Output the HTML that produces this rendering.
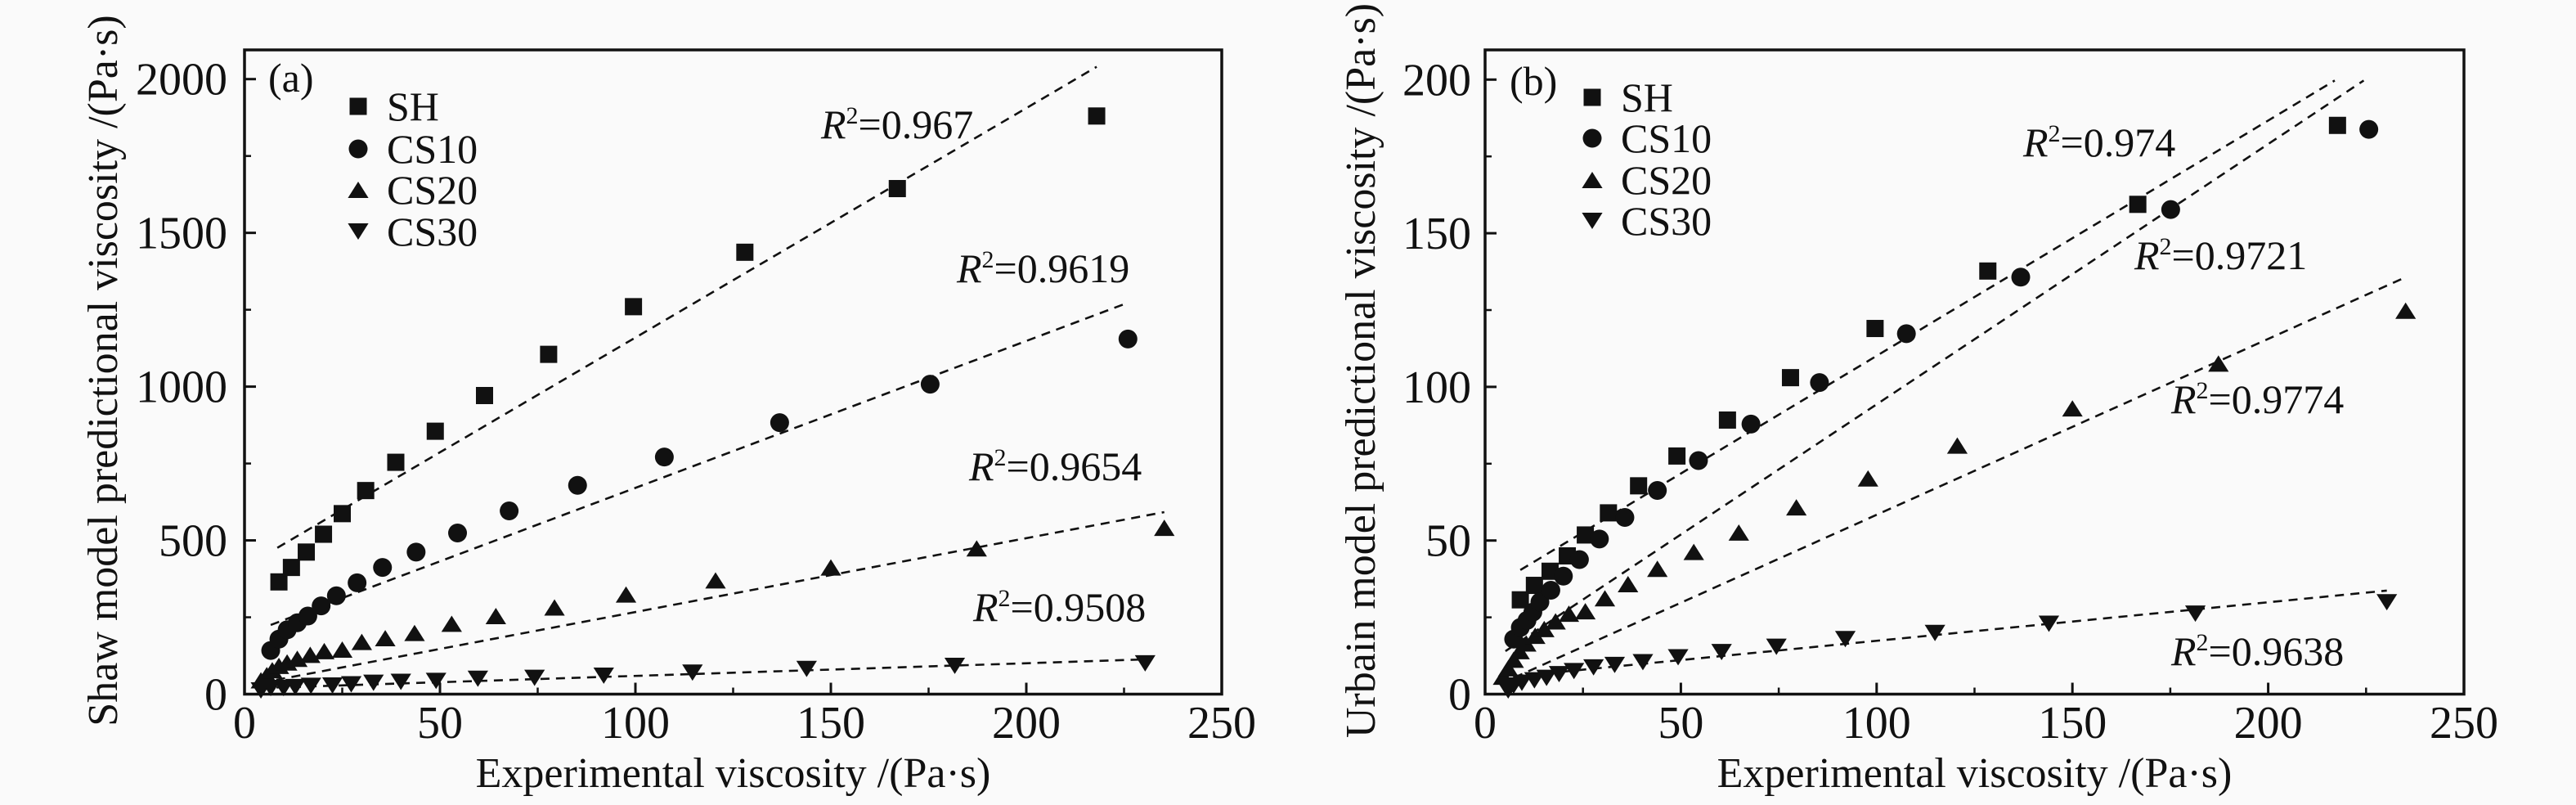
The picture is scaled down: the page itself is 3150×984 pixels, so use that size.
<!DOCTYPE html>
<html><head><meta charset="utf-8">
<style>
html,body{margin:0;padding:0;background:#fafafa;}
svg{display:block;font-family:"Liberation Serif",serif;}
</style></head>
<body>
<svg id="chart" width="3150" height="984" viewBox="0 0 3150 984" xmlns="http://www.w3.org/2000/svg">
<rect x="0" y="0" width="3150" height="984" fill="#fafafa"/>
</svg>
<script>
// ---- Panel (a) data: Shaw model ----
const aSHx=[8.8,12,15.8,20.2,25,31,38.7,48.8,61.4,77.8,99.5,128,167,218];
const aSHy=[365,412,462,520,587,662,754,855,971,1105,1260,1437,1644,1880];
const aCS10x=[6.7,8.8,10.9,13.5,16.2,19.6,23.5,28.8,35.3,43.9,54.5,67.7,85.2,107.4,136.9,175.4,226];
const aCS10y=[142,179,209,232,254,287,320,362,412,462,524,596,679,771,883,1008,1155];
const aCS20x=[4.2,5.7,7.1,8.8,10.9,13.5,16.8,20.4,25,30,36,43.5,53,64.3,79.3,97.6,120.5,150,187.3,235.3];
const aCS20y=[45,62,78,92,103,115,128,140,145,170,182,199,229,254,282,324,370,412,474,541];
const aCS30x=[4.2,6.7,10,13,17,22.5,27.3,33,40,49,59.7,74.2,91.9,114.6,143.8,181.7,230.4];
const aCS30y=[12,20,20,23,27,28,32,37,40,43,50,53,60,70,82,92,100];
const aFitX0=[8.4,6.7,4.2,4.2], aFitY0=[476,225,37,20];
const aFitX1=[218,225,235.3,230.4], aFitY1=[2040,1268,592,113];
const aR2=["0.967","0.9619","0.9654","0.9508"];
const aYTicks=[0,500,1000,1500,2000];
// ---- Panel (b) data: Urbain model ----
const bSHx=[9,12.6,16.6,21,25.6,31.5,39.2,49,61.9,78,99.6,128.4,166.7,217.7];
const bSHy=[30.7,35.4,40,45,51.8,59,67.8,77.5,89.2,103,119,137.7,159.4,185.1];
const bCS10x=[7.3,9,10.7,12.2,14,16.8,20,24.1,29.2,35.7,44,54.5,67.9,85.4,107.6,136.8,175.1,225.7];
const bCS10y=[17.9,21.7,24,26.7,30,33.8,38.4,43.8,50.5,57.5,66.3,76,87.9,101.4,117.3,135.7,157.7,183.8];
const bCS20x=[4.6,5.9,7.3,8.8,10.5,12.8,15.1,18,21.4,25.6,30.6,36.5,44,53.3,64.8,79.5,97.8,120.6,150,187.3,235.1];
const bCS20y=[5.7,8.4,11.2,14,16.5,19,21.2,23.7,26.2,27,31.2,35.8,40.8,46.3,52.6,60.8,70.2,80.9,93,107.6,124.8];
const bCS30x=[5.9,7.3,9.4,12.6,15.7,18.9,22.7,27.7,33.1,40.3,49.3,60.4,74.4,92,114.9,144,181.4,230.3];
const bCS30y=[1.2,2.8,3.7,4.5,5.3,6.5,7.5,8.7,9.5,10.4,12,13.7,15.4,17.9,19.9,22.9,26.2,29.9];
const bFitX0=[9,5.2,3.8,3.8], bFitY0=[40.4,14,3.3,5.3];
const bFitX1=[217,224.4,235.1,230.3], bFitY1=[199.7,199.7,135.7,33.7];
const bR2=["0.974","0.9721","0.9774","0.9638"];
const bYTicks=[0,50,100,150,200];
const xTicks=[0,50,100,150,200,250];
const seriesNames=["SH","CS10","CS20","CS30"];

const NS="http://www.w3.org/2000/svg";
const svg=document.getElementById('chart');
function mk(tag,attrs,parent){const e=document.createElementNS(NS,tag);for(const k in attrs)e.setAttribute(k,attrs[k]);(parent||svg).appendChild(e);return e;}
function marker(g,shape,cx,cy,s){
  let e;
  if(shape===0){e=mk('rect',{x:cx-s/2,y:cy-s/2,width:s,height:s,fill:'#111'},g);}
  else if(shape===1){e=mk('circle',{cx:cx,cy:cy,r:s/2+1,fill:'#111'},g);}
  else if(shape===2){const h=s*0.95;e=mk('polygon',{points:`${cx-s*0.6},${cy+h/2} ${cx+s*0.6},${cy+h/2} ${cx},${cy-h/2}`,fill:'#111'},g);}
  else {const h=s*0.95;e=mk('polygon',{points:`${cx-s*0.6},${cy-h/2} ${cx+s*0.6},${cy-h/2} ${cx},${cy+h/2}`,fill:'#111'},g);}
  return e;
}
function panel(cfg){
  const {L,R,T,B,yMax,yTicks,xs,ys,fx0,fy0,fx1,fy1,r2,r2pos,ytitle,ytx,label,labPos,legX,legY,tag,ylabR}=cfg;
  const X=v=>L+v/250*(R-L);
  const yScale=v=>B-v*(B-cfg.yTopPix)/yMax;
  const g=mk('g',{});
  
  
  for(let i=0;i<xTicks.length;i++){
    const v=xTicks[i];
    const t=mk('line',{x1:X(v),y1:B,x2:X(v),y2:B-14,stroke:'#111','stroke-width':3},g);
    
    if(i<xTicks.length-1){const m=mk('line',{x1:X(v+25),y1:B,x2:X(v+25),y2:B-8,stroke:'#111','stroke-width':2.5},g);
      }
    const tl=mk('text',{x:X(v),y:902,'font-size':56,'text-anchor':'middle',fill:'#111'},g);
    tl.textContent=v;
    
  }
  for(let i=0;i<yTicks.length;i++){
    const v=yTicks[i];
    const t=mk('line',{x1:L,y1:yScale(v),x2:L+14,y2:yScale(v),stroke:'#111','stroke-width':3},g);
    
    if(i<yTicks.length-1){const hv=(yTicks[i]+yTicks[i+1])/2;const m=mk('line',{x1:L,y1:yScale(hv),x2:L+8,y2:yScale(hv),stroke:'#111','stroke-width':2.5},g);
      }
    const tl=mk('text',{x:ylabR,y:yScale(v)+19,'font-size':56,'text-anchor':'end',fill:'#111'},g);
    tl.textContent=v;
    
  }
  for(let s=0;s<4;s++){
    const l=mk('line',{x1:X(fx0[s]),y1:yScale(fy0[s]),x2:X(fx1[s]),y2:yScale(fy1[s]),stroke:'#111','stroke-width':2.6,'stroke-dasharray':'11 8'},g);
    
    
  }
  for(let s=0;s<4;s++){
    const sg=mk('g',{},g);
    
    
    for(let i=0;i<xs[s].length;i++){
      const p=marker(sg,s,X(xs[s][i]),yScale(ys[s][i]),21);
      
      
    }
  }
  for(let s=0;s<4;s++){
    const t=mk('text',{x:r2pos[s][0],y:r2pos[s][1],'font-size':50,fill:'#111'},g);
    
    
    const a=mk('tspan',{'font-style':'italic'},t);a.textContent='R';
    const b=mk('tspan',{'font-size':30,dy:-18},t);b.textContent='2';
    const c=mk('tspan',{dy:18},t);c.textContent='='+r2[s];
  }
  const f=mk('rect',{x:L,y:T,width:R-L,height:B-T,fill:'none',stroke:'#111','stroke-width':3.5},g);
  
  const pl=mk('text',{x:labPos[0],y:labPos[1],'font-size':50,fill:'#111'},g);
  pl.textContent=label;
  const lg=mk('g',{},g);
  for(let s=0;s<4;s++){
    const e=mk('g',{},lg);
    marker(e,s,legX,legY[s],21);
    const t=mk('text',{x:legX+35,y:legY[s]+17,'font-size':50,fill:'#111'},e);t.textContent=seriesNames[s];
  }
  const xt=mk('text',{x:(L+R)/2,y:962,'font-size':52,'text-anchor':'middle',fill:'#111'},g);
  xt.textContent='Experimental viscosity /(Pa·s)';
  
  const yt=mk('text',{x:0,y:0,'font-size':52,'text-anchor':'middle',fill:'#111',transform:`translate(${ytx},${(cfg.ytc)}) rotate(-90)`},g);
  yt.textContent=ytitle;
  
}
panel({tag:'a',L:299,R:1494,T:61,B:848.5,yTopPix:96.7,yMax:2000,yTicks:aYTicks,ylabR:278,
  xs:[aSHx,aCS10x,aCS20x,aCS30x],ys:[aSHy,aCS10y,aCS20y,aCS30y],
  fx0:aFitX0,fy0:aFitY0,fx1:aFitX1,fy1:aFitY1,r2:aR2,
  r2pos:[[1004,169],[1170,345],[1185,587],[1190,759]],
  ytitle:'Shaw model predictional viscosity /(Pa·s)',ytx:143,ytc:453,
  label:'(a)',labPos:[328,112],legX:438,legY:[130,182,232,283]});
panel({tag:'b',L:1816,R:3013,T:61,B:848.5,yTopPix:97.3,yMax:200,yTicks:bYTicks,ylabR:1799,
  xs:[bSHx,bCS10x,bCS20x,bCS30x],ys:[bSHy,bCS10y,bCS20y,bCS30y],
  fx0:bFitX0,fy0:bFitY0,fx1:bFitX1,fy1:bFitY1,r2:bR2,
  r2pos:[[2474,191],[2610,329],[2655,505],[2655,813]],
  ytitle:'Urbain model predictional viscosity /(Pa·s)',ytx:1681,ytc:453,
  label:'(b)',labPos:[1846,116],legX:1947,legY:[119,169,220,270]});
</script>
</body></html>
